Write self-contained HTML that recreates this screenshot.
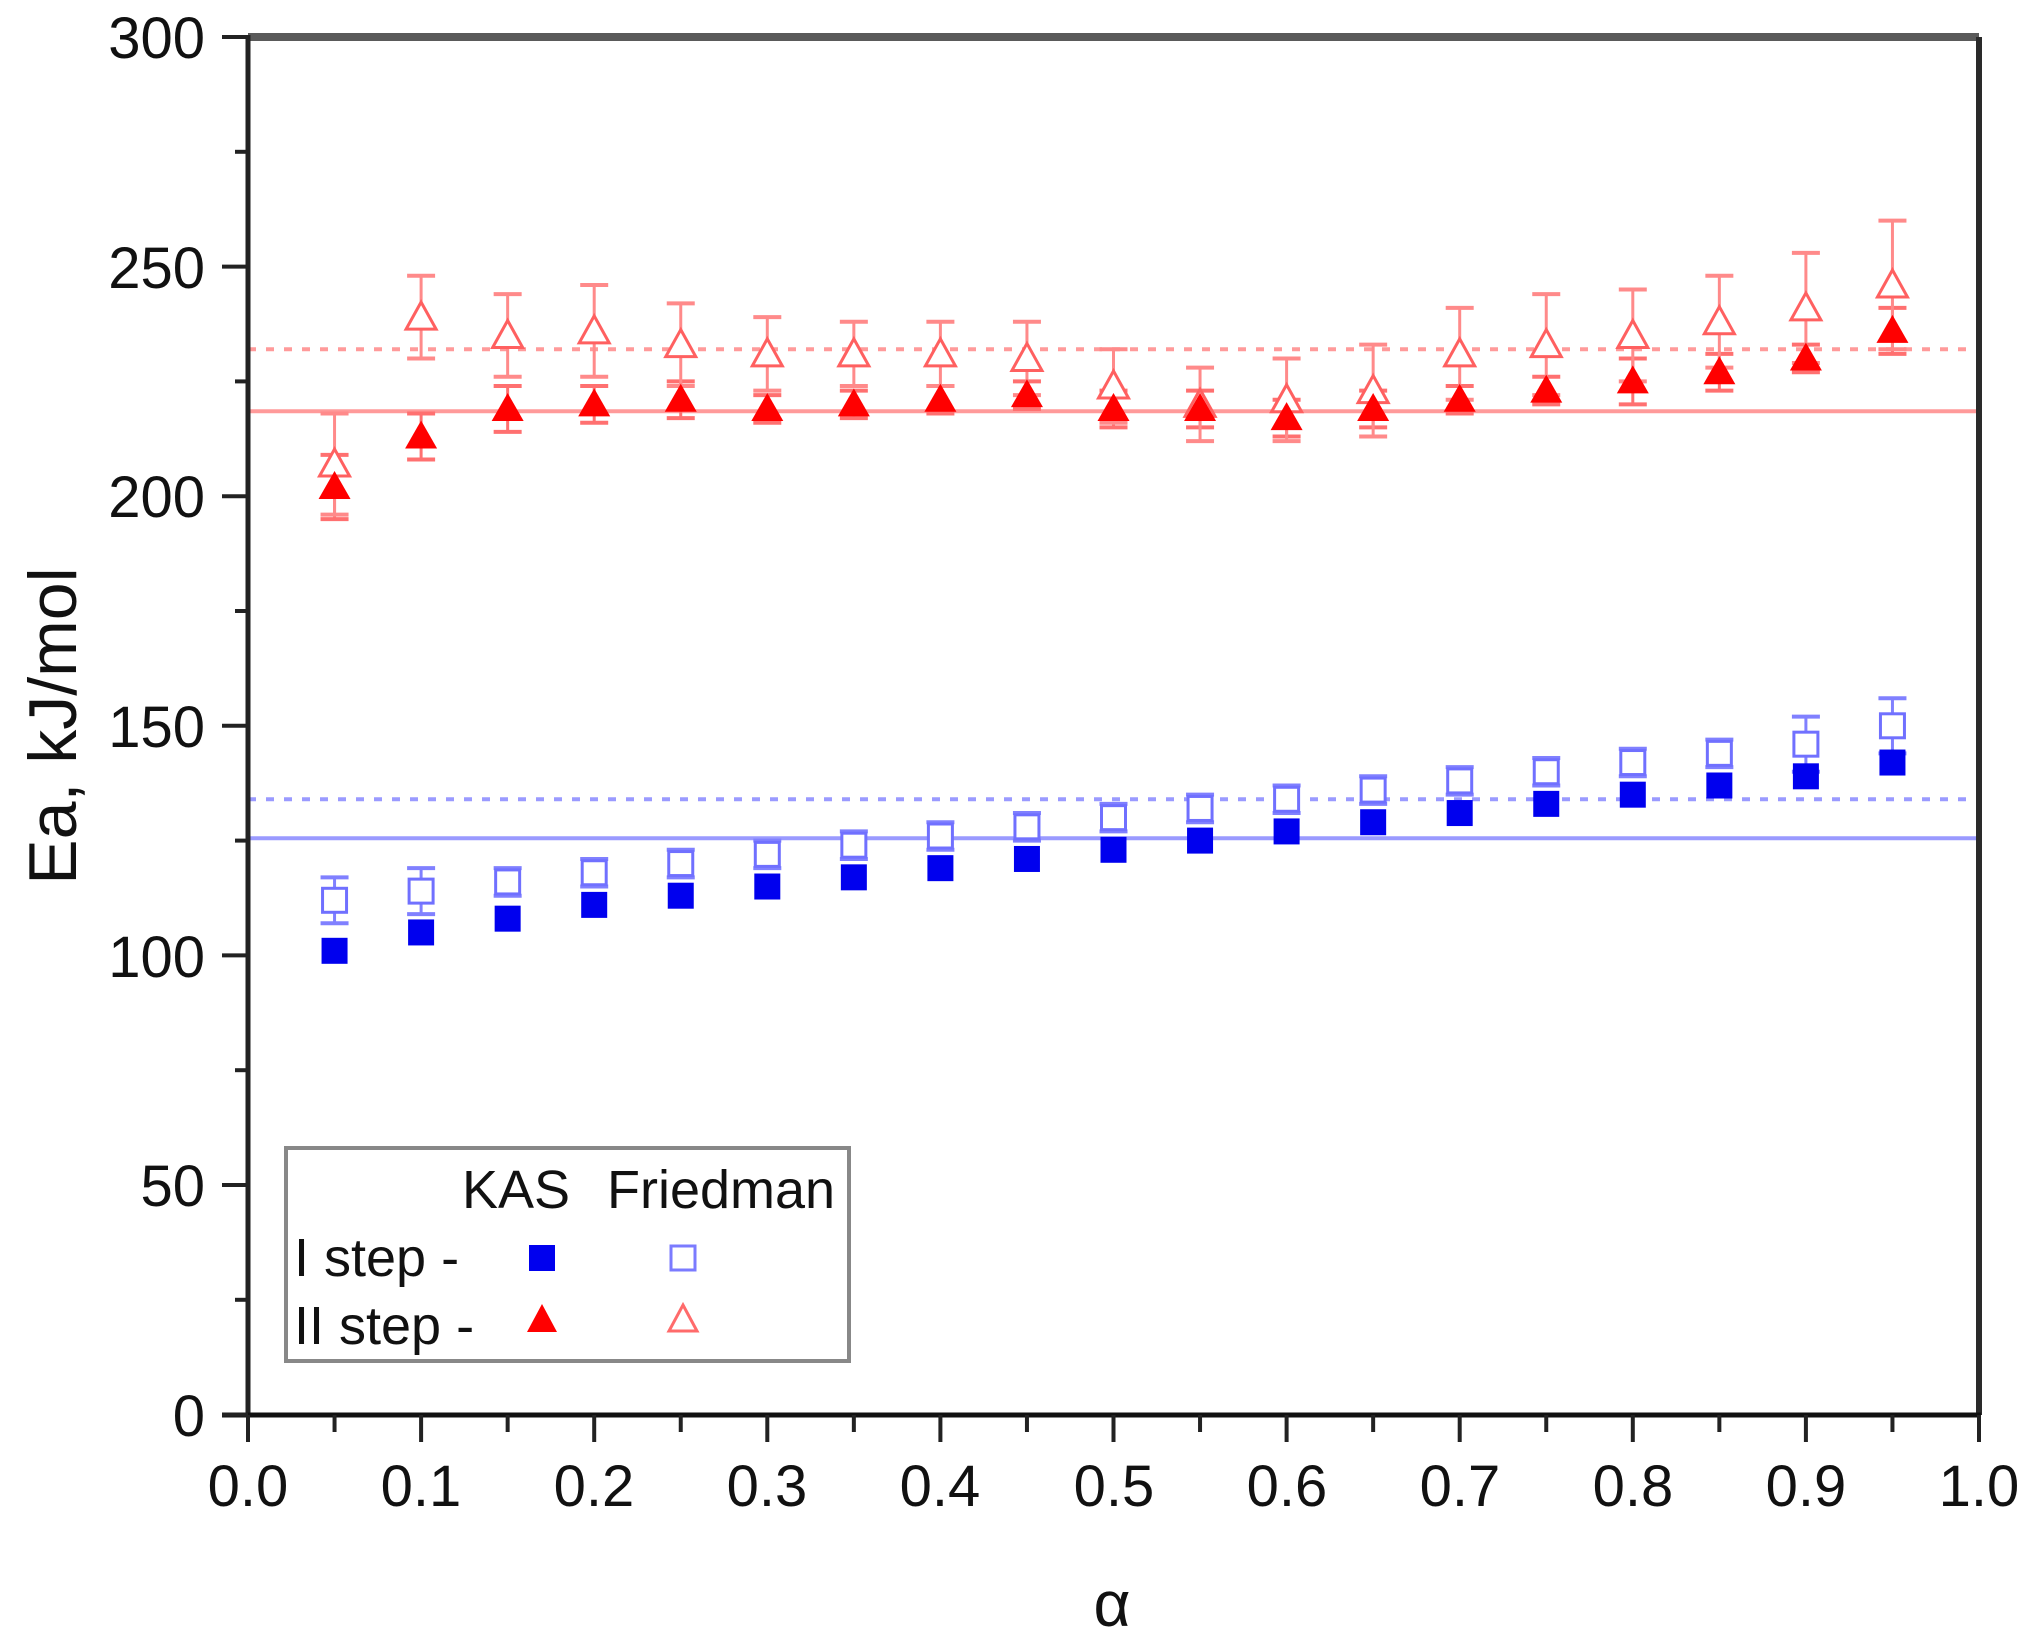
<!DOCTYPE html>
<html><head><meta charset="utf-8"><style>
html,body{margin:0;padding:0;background:#fff;}
svg{display:block;}
text{font-family:"Liberation Sans",sans-serif;fill:#111;}
</style></head><body>
<svg id="s" width="2033" height="1644" viewBox="0 0 2033 1644" xmlns="http://www.w3.org/2000/svg">
<g id="data"></g>
<line x1="248" y1="37" x2="1979" y2="37" stroke="#5a5a5a" stroke-width="8"/>
<line x1="1979" y1="37" x2="1979" y2="1415" stroke="#2a2a2a" stroke-width="6"/>
<line x1="248" y1="35" x2="248" y2="1415" stroke="#222" stroke-width="5"/>
<line x1="222" y1="1415" x2="1981" y2="1415" stroke="#111" stroke-width="5"/>
<g id="ticks" stroke="#222" stroke-width="4"></g>
<g font-size="58" text-anchor="end">
<text x="205" y="58">300</text>
<text x="205" y="288">250</text>
<text x="205" y="517">200</text>
<text x="205" y="747">150</text>
<text x="205" y="977">100</text>
<text x="205" y="1206">50</text>
<text x="205" y="1436">0</text>
</g>
<g font-size="58" text-anchor="middle">
<text x="248" y="1506">0.0</text>
<text x="421" y="1506">0.1</text>
<text x="594" y="1506">0.2</text>
<text x="767" y="1506">0.3</text>
<text x="940" y="1506">0.4</text>
<text x="1114" y="1506">0.5</text>
<text x="1287" y="1506">0.6</text>
<text x="1460" y="1506">0.7</text>
<text x="1633" y="1506">0.8</text>
<text x="1806" y="1506">0.9</text>
<text x="1979" y="1506">1.0</text>
</g>
<text x="1112" y="1626" font-size="64" text-anchor="middle">α</text>
<text transform="translate(76,726) rotate(-90)" font-size="68" text-anchor="middle">Ea, kJ/mol</text>
<rect x="286" y="1148" width="563" height="213" fill="#fff" stroke="#888" stroke-width="4"/>
<g font-size="54">
<text x="462" y="1208">KAS</text>
<text x="607" y="1208">Friedman</text>
<text x="294" y="1276">I step  -</text>
<text x="294" y="1344">II step -</text>
</g>
<rect x="529" y="1245" width="26" height="26" fill="#0000ee"/>
<rect x="671" y="1246" width="24" height="24" fill="none" stroke="#7b7bff" stroke-width="3"/>
<polygon points="542,1304 557,1332 527,1332" fill="#f00"/>
<polygon points="683,1305 697,1331 669,1331" fill="none" stroke="#ff6b6b" stroke-width="3"/>
</svg>
<script>
var NS="http://www.w3.org/2000/svg";
function X(a){return 248+a*1731;}
function Y(v){return 1414.6-v*4.592;}
function el(p,t,at){var e=document.createElementNS(NS,t);for(var k in at)e.setAttribute(k,at[k]);p.appendChild(e);return e;}
var tk=document.getElementById('ticks');
for(var i=0;i<=20;i++){var x=X(i*0.05);el(tk,'line',{x1:x,y1:1415,x2:x,y2:i%2?1432:1442});}
for(var i=0;i<=12;i++){var y=Y(i*25);el(tk,'line',{x1:248,y1:y,x2:i%2?235:222,y2:y});}
var d=document.getElementById('data');
el(d,'line',{x1:248,y1:Y(218.5),x2:1979,y2:Y(218.5),stroke:'#ff9a9a','stroke-width':4});
el(d,'line',{x1:248,y1:Y(232),x2:1979,y2:Y(232),stroke:'#ff9a9a','stroke-width':4,'stroke-dasharray':'8 10'});
el(d,'line',{x1:248,y1:Y(125.5),x2:1979,y2:Y(125.5),stroke:'#9a9aff','stroke-width':4});
el(d,'line',{x1:248,y1:Y(134),x2:1979,y2:Y(134),stroke:'#9a9aff','stroke-width':4,'stroke-dasharray':'8 10'});
var kasI=[101,105,108,111,113,115,117,119,121,123,125,127,129,131,133,135,137,139,142];
var frI=[112,114,116,118,120,122,124,126,128,130,132,134,136,138,140,142,144,146,150];
var kasII=[202,213,219,220,221,219,220,221,222,219,219,217,219,221,223,225,227,230,236];
var kasIIe=[7,5,5,4,4,3,3,3,3,4,4,4,4,3,3,5,4,3,5];
var frII=[207,239,235,236,233,231,231,231,230,224,220,221,223,231,233,235,238,241,246];
var frIIe=[11,9,9,10,9,8,7,7,8,8,8,9,10,10,11,10,10,12,14];
function eb(x,v,e,c){el(d,'line',{x1:x,y1:Y(v-e),x2:x,y2:Y(v+e),stroke:c,'stroke-width':3});
 el(d,'line',{x1:x-14,y1:Y(v-e),x2:x+14,y2:Y(v-e),stroke:c,'stroke-width':4});
 el(d,'line',{x1:x-14,y1:Y(v+e),x2:x+14,y2:Y(v+e),stroke:c,'stroke-width':4});}
for(var i=0;i<19;i++){var x=X(0.05*(i+1));
 eb(x,frI[i],i<2?5:(i>16?6:3),'#8080ff');
 el(d,'rect',{x:x-12,y:Y(frI[i])-12,width:24,height:24,fill:'#fff',stroke:'#7070ff','stroke-width':3});
 el(d,'rect',{x:x-13,y:Y(kasI[i])-13,width:26,height:26,fill:'#0000ee'});
 eb(x,kasII[i],kasIIe[i],'#ff7070');
 eb(x,frII[i],frIIe[i],'#ff8a8a');
 var y=Y(frII[i]);
 el(d,'polygon',{points:(x)+','+(y-15)+' '+(x+15)+','+(y+12)+' '+(x-15)+','+(y+12),fill:'#fff',stroke:'#ff6060','stroke-width':3});
 y=Y(kasII[i]);
 el(d,'polygon',{points:(x)+','+(y-16)+' '+(x+16)+','+(y+12)+' '+(x-16)+','+(y+12),fill:'#f00'});
}
</script>
</body></html>
